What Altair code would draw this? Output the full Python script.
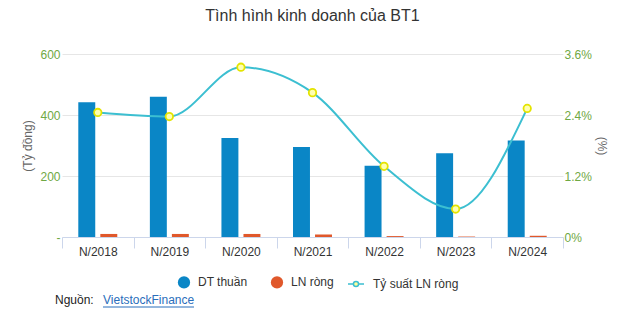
import altair as alt
import pandas as pd

years = ["N/2018", "N/2019", "N/2020", "N/2021", "N/2022", "N/2023", "N/2024"]
dt_thuan = [442, 460, 325, 295, 234, 275, 316]
ln_rong = [10, 10, 10, 8, 3, 1.5, 4]
ty_suat = [2.45, 2.37, 3.34, 2.84, 1.39, 0.55, 2.53]
series_names = ["DT thuần", "LN ròng"]
line_name = "Tỷ suất LN ròng"
title_text = "Tình hình kinh doanh của BT1"
left_ticks = [0, 200, 400, 600]
right_ticks = [0, 1.2, 2.4, 3.6]
source_label = "Nguồn:"
source_link = "VietstockFinance"

bars_df = pd.DataFrame({
    "year": years * 2,
    "series": [series_names[0]] * len(years) + [series_names[1]] * len(years),
    "value": dt_thuan + ln_rong,
})
line_df = pd.DataFrame({"year": years, "pct": ty_suat, "name": [line_name] * len(years)})
one = pd.DataFrame({"a": [0]})

FONT = "Liberation Sans"
GREEN = "#6fa843"
BLUE = "#0a86c6"
ORANGE = "#e0582b"
CYAN = "#3cbfd1"
AXISLINE = "#ccd6eb"

x_enc = alt.X(
    "year:N", sort=years,
    scale=alt.Scale(paddingInner=0, paddingOuter=0),
    axis=alt.Axis(title=None, tickBand="extent", labelAngle=0, tickSize=11,
                  tickColor=AXISLINE, domainColor=AXISLINE, labelColor="#333333",
                  labelFontSize=12, labelFont=FONT, labelPadding=-2, grid=False),
)

bars = alt.Chart(bars_df).mark_bar().encode(
    x=x_enc,
    xOffset=alt.XOffset("series:N", sort=series_names,
                        scale=alt.Scale(paddingInner=0.23, paddingOuter=0.74)),
    y=alt.Y("value:Q", scale=alt.Scale(domain=[0, 600], nice=False),
            axis=alt.Axis(values=left_ticks, title="(Tỷ đồng)",
                          labelExpr="datum.value == 0 ? '-' : datum.label",
                          labelColor=GREEN, labelFont=FONT, labelFontSize=12,
                          labelPadding=2, ticks=False, domain=False,
                          grid=True, gridColor="#e6e6e6",
                          titleColor="#666666", titleFont=FONT, titleFontSize=12,
                          titleFontWeight="normal", titlePadding=5)),
    color=alt.Color("series:N", sort=series_names,
                    scale=alt.Scale(domain=series_names, range=[BLUE, ORANGE]),
                    legend=alt.Legend(orient="none", legendX=115, legendY=221,
                                      direction="horizontal", title=None,
                                      symbolType="circle", symbolSize=150,
                                      labelFont=FONT, labelFontSize=12,
                                      labelColor="#333333", columnPadding=22,
                                      labelOffset=7)),
)

y_right = alt.Y("pct:Q", scale=alt.Scale(domain=[0, 3.6], nice=False),
                axis=alt.Axis(orient="right", values=right_ticks,
                              labelExpr="datum.value + '%'", title="(%)",
                              labelColor=GREEN, labelFont=FONT, labelFontSize=12,
                              labelPadding=1, ticks=False, domain=False, grid=False,
                              titleColor="#666666", titleFont=FONT, titleFontSize=12,
                              titleFontWeight="normal", titlePadding=3))

line = alt.Chart(line_df).mark_line(interpolate="monotone", strokeWidth=2).encode(
    x=x_enc,
    y=y_right,
    stroke=alt.Stroke("name:N", scale=alt.Scale(domain=[line_name], range=[CYAN]),
                      legend=alt.Legend(orient="none", legendX=285, legendY=221,
                                        title=None,
                                        symbolType="M-1,0L-0.32,0M0.32,0L1,0M-0.32,0A0.32,0.32,0,1,0,0.32,0A0.32,0.32,0,1,0,-0.32,0",
                                        symbolSize=256, symbolStrokeWidth=1.5,
                                        symbolFillColor="#ffff99",
                                        labelFont=FONT, labelFontSize=12,
                                        labelColor="#333333", labelOffset=8)),
)

points = alt.Chart(line_df).mark_point(filled=False, fill="#ffffb0", stroke="#e4e400",
                                       strokeWidth=1.8, size=55, opacity=1).encode(
    x=x_enc,
    y=y_right,
)

right_layer = alt.layer(line, points)

src1 = alt.Chart(one).mark_text(align="left", baseline="middle", font=FONT,
                                fontSize=12, color="#222222").encode(
    x=alt.value(-7), y=alt.value(246), text=alt.value(source_label))
src2 = alt.Chart(one).mark_text(align="left", baseline="middle", font=FONT,
                                fontSize=12, color="#2a6ebb").encode(
    x=alt.value(41), y=alt.value(246), text=alt.value(source_link))
src_ul = alt.Chart(one).mark_rule(color="#2a6ebb", strokeWidth=1).encode(
    x=alt.value(41), x2=alt.value(132), y=alt.value(253))

chart = alt.layer(bars, right_layer, src1, src2, src_ul).resolve_scale(
    y="independent", color="independent"
).properties(
    width=501, height=183,
    title=alt.Title(title_text, fontSize=16, font=FONT, color="#333333",
                    fontWeight="normal", anchor="middle", offset=24),
    padding={"left": 62, "top": 54, "right": 66, "bottom": 95},
    autosize=alt.AutoSizeParams(type="none"),
).configure(background="white", view=alt.ViewConfig(strokeWidth=0, strokeOpacity=0))

chart.save("out.html", embed_options={"renderer": "svg", "actions": False})
